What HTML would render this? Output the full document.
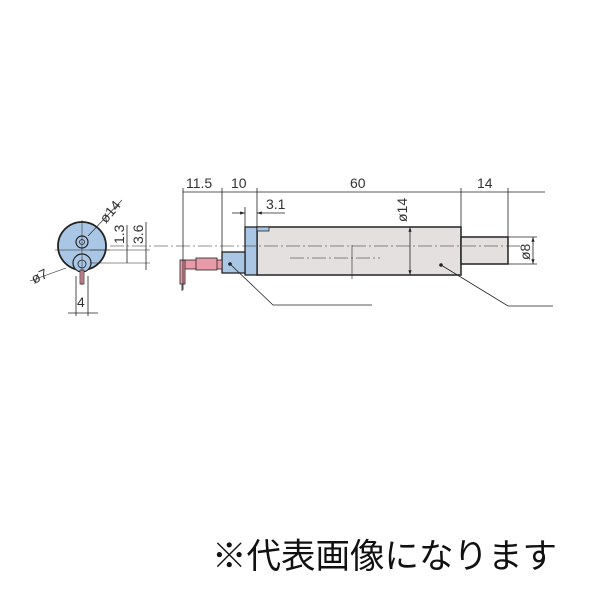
<!DOCTYPE html>
<html><head><meta charset="utf-8"><style>
body{margin:0;background:#fff;width:600px;height:600px;overflow:hidden}
svg text{font-family:"Liberation Sans",sans-serif;font-size:14px;fill:#333}
</style></head><body>
<svg width="600" height="600" xmlns="http://www.w3.org/2000/svg">
<defs>
<marker id="a" markerWidth="6" markerHeight="4" refX="6" refY="2" orient="auto"><path d="M0,0 L6,2 L0,4z" fill="#222"/></marker>
</defs>
<g stroke="#222" fill="none" stroke-width="0.8">
<rect x="257" y="227" width="204" height="48" fill="#e4e0e0" stroke-width="1.5"/>
<rect x="461" y="237" width="47" height="27" fill="#e4e0e0" stroke-width="1.5"/>
<rect x="245" y="227" width="12" height="48" fill="#a9c6e4" stroke-width="1.3"/>
<rect x="257" y="227" width="12" height="4" fill="#a9c6e4" stroke-width="0.8"/>
<rect x="222" y="252" width="23" height="21" fill="#a9c6e4" stroke-width="1.3"/>
<rect x="184" y="260" width="38" height="9" fill="#e89aa8" stroke-width="0.8"/>
<rect x="196" y="258" width="21" height="12" fill="#e89aa8" stroke-width="0.8"/>
<rect x="180" y="260" width="5" height="24" fill="#e89aa8" stroke-width="0.8"/>
<line x1="182" y1="284" x2="182" y2="291"/>
<line x1="110" y1="246" x2="520" y2="246" stroke-dasharray="14,3,2,3" stroke-width="0.6"/>
<line x1="290" y1="258" x2="380" y2="258" stroke-dasharray="14,3,2,3" stroke-width="0.6"/>
<line x1="352" y1="245" x2="352" y2="279" stroke-width="0.6"/>
<line x1="183" y1="192" x2="545" y2="192"/>
<line x1="183" y1="188" x2="183" y2="290"/>
<line x1="222" y1="188" x2="222" y2="252"/>
<line x1="257" y1="188" x2="257" y2="227"/>
<line x1="461" y1="188" x2="461" y2="227"/>
<line x1="508" y1="188" x2="508" y2="237"/>
<line x1="232" y1="213" x2="245" y2="213" marker-end="url(#a)"/>
<line x1="285" y1="213" x2="257" y2="213" marker-end="url(#a)"/>
<line x1="245" y1="207" x2="245" y2="227"/>
<line x1="410" y1="251" x2="410" y2="227" marker-end="url(#a)"/>
<line x1="410" y1="251" x2="410" y2="275" marker-end="url(#a)"/>
<line x1="508" y1="237" x2="537" y2="237"/><line x1="508" y1="264" x2="537" y2="264"/>
<line x1="533" y1="250" x2="533" y2="237" marker-end="url(#a)"/>
<line x1="533" y1="250" x2="533" y2="264" marker-end="url(#a)"/>
<polyline points="230,264 273,305 372,305"/>
<polyline points="441,265 508,306 553,306"/>
<circle cx="82" cy="246" r="24" fill="#a9c6e4" stroke-width="1.8"/>
<circle cx="82" cy="242" r="6" fill="#a9c6e4" stroke-width="1.2"/>
<circle cx="82" cy="242" r="2.5" stroke-width="0.8"/>
<circle cx="82" cy="263" r="9" fill="#a9c6e4" stroke-width="1.2"/>
<circle cx="82" cy="264" r="4" stroke-width="0.8"/>
<rect x="80" y="270" width="4" height="14" fill="#e89aa8" stroke-width="0.7"/>
<line x1="82" y1="220" x2="82" y2="285" stroke-width="0.5"/>
<line x1="55" y1="250" x2="110" y2="250" stroke-width="0.5"/>
<line x1="88" y1="236" x2="122" y2="200" stroke-width="0.6"/>
<line x1="30" y1="281" x2="66" y2="268" stroke-width="0.6"/>
<line x1="90" y1="250" x2="150" y2="250" stroke-width="0.5"/>
<line x1="90" y1="263" x2="150" y2="263" stroke-width="0.5"/>
<line x1="127" y1="225" x2="127" y2="263"/>
<line x1="146" y1="222" x2="146" y2="270"/>
<line x1="76" y1="276" x2="76" y2="316"/><line x1="88" y1="276" x2="88" y2="316"/>
<line x1="68" y1="313" x2="98" y2="313"/>
</g>
<g fill="#222">
<circle cx="230" cy="264" r="1.8"/><circle cx="441" cy="265" r="1.8"/>
</g>
<text x="186" y="188">11.5</text><text x="231" y="188">10</text>
<text x="350" y="188">60</text><text x="477" y="188">14</text>
<text x="266" y="209">3.1</text>
<text transform="translate(407,222) rotate(-90)">ø14</text>
<text transform="translate(530,260) rotate(-90)">ø8</text>
<text transform="translate(124,244) rotate(-90)">1.3</text>
<text transform="translate(143,244) rotate(-90)">3.6</text>
<text transform="translate(106,224) rotate(-50)">ø14</text>
<text transform="translate(34,284) rotate(-25)">ø7</text>
<text x="77" y="307">4</text>
<text x="212" y="568" style="font-family:'Liberation Sans','Noto Sans CJK JP',sans-serif;font-size:34.5px;fill:#111">※代表画像になります</text>
</svg>
</body></html>
